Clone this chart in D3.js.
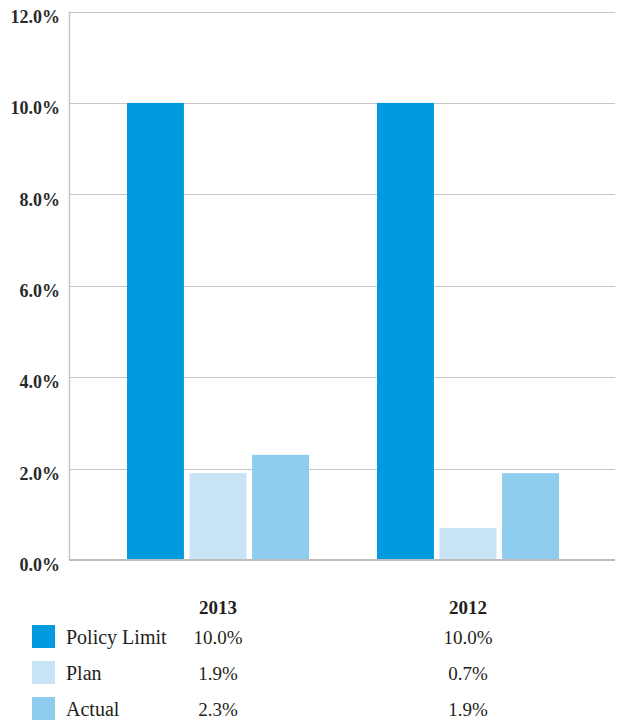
<!DOCTYPE html>
<html><head><meta charset="utf-8">
<script src="https://cdn.jsdelivr.net/npm/d3@7"></script>
<style>
html,body{margin:0;padding:0;background:#fff;}
svg{display:block;font-family:"Liberation Serif","DejaVu Serif",serif;}
</style></head>
<body><svg id="c" width="617" height="724"></svg>
<script>
const years = ["2013", "2012"];
const seriesNames = ["Policy Limit", "Plan", "Actual"];
const policyLimit = [10.0, 10.0];
const plan = [1.9, 0.7];
const actual = [2.3, 1.9];
const yTicks = [0, 2, 4, 6, 8, 10, 12];
const colors = ["#009ade", "#c7e3f5", "#8fcdef"];

const seriesValues = [policyLimit, plan, actual];
const svg = d3.select("#c");
const textColor = "#231f20";

const y = d3.scaleLinear().domain([0, 12]).range([560, 11.5]);
const x0 = d3.scaleBand().domain(years).range([93, 593]);
const x1 = d3.scaleBand().domain(seriesNames).range([34, 216]).paddingInner(0.09);

// gridlines
svg.append("g").selectAll("line").data(yTicks.filter(d => d > 0)).join("line")
  .attr("x1", 69).attr("x2", 615)
  .attr("y1", d => Math.round(y(d)) + 0.5).attr("y2", d => Math.round(y(d)) + 0.5)
  .attr("stroke", "#c6c6c6").attr("stroke-width", 1);

// left axis line
svg.append("line").attr("x1", 69.5).attr("x2", 69.5).attr("y1", y(12)).attr("y2", y(0))
  .attr("stroke", "#c6c6c6").attr("stroke-width", 1.5);

// tick labels
svg.append("g").selectAll("text").data(yTicks).join("text")
  .attr("x", 60).attr("y", d => y(d) + 5).attr("dy", "0.35em")
  .attr("text-anchor", "end").attr("font-size", 18).attr("font-weight", 600)
  .attr("fill", "#2a2a2a")
  .text(d => d.toFixed(1) + "%");

// bars
const groups = svg.append("g").selectAll("g").data(years).join("g")
  .attr("transform", d => `translate(${x0(d)},0)`);
groups.selectAll("rect").data((yr, i) => seriesNames.map((s, j) => ({s, v: seriesValues[j][i], j})))
  .join("rect")
  .attr("x", d => x1(d.s)).attr("width", x1.bandwidth())
  .attr("y", d => y(d.v)).attr("height", d => y(0) - y(d.v))
  .attr("fill", d => colors[d.j]);

// baseline
svg.append("line").attr("x1", 69).attr("x2", 615).attr("y1", y(0)).attr("y2", y(0))
  .attr("stroke", "#bdbdbd").attr("stroke-width", 2);

// table
const cx = yr => x0(yr) + x0.bandwidth() / 2;
svg.append("g").selectAll("text").data(years).join("text")
  .attr("x", cx).attr("y", 614).attr("text-anchor", "middle")
  .attr("font-size", 19).attr("font-weight", 700).attr("fill", textColor)
  .text(d => d);

const rowY = d3.scaleBand().domain(seriesNames).range([625, 733]);
const rows = svg.append("g").selectAll("g").data(seriesNames).join("g")
  .attr("transform", d => `translate(0,${rowY(d)})`);
rows.append("rect").attr("x", 32).attr("y", 0).attr("width", 23).attr("height", 23)
  .attr("fill", (d, i) => colors[i]);
rows.append("text").attr("x", 66).attr("y", 19).attr("font-size", 20).attr("fill", textColor)
  .text(d => d);
rows.each(function(s, j) {
  d3.select(this).selectAll("text.v").data(years).join("text").attr("class", "v")
    .attr("x", cx).attr("y", 19).attr("text-anchor", "middle")
    .attr("font-size", 19).attr("fill", textColor)
    .text((yr, i) => seriesValues[j][i].toFixed(1) + "%");
});
</script></body></html>
